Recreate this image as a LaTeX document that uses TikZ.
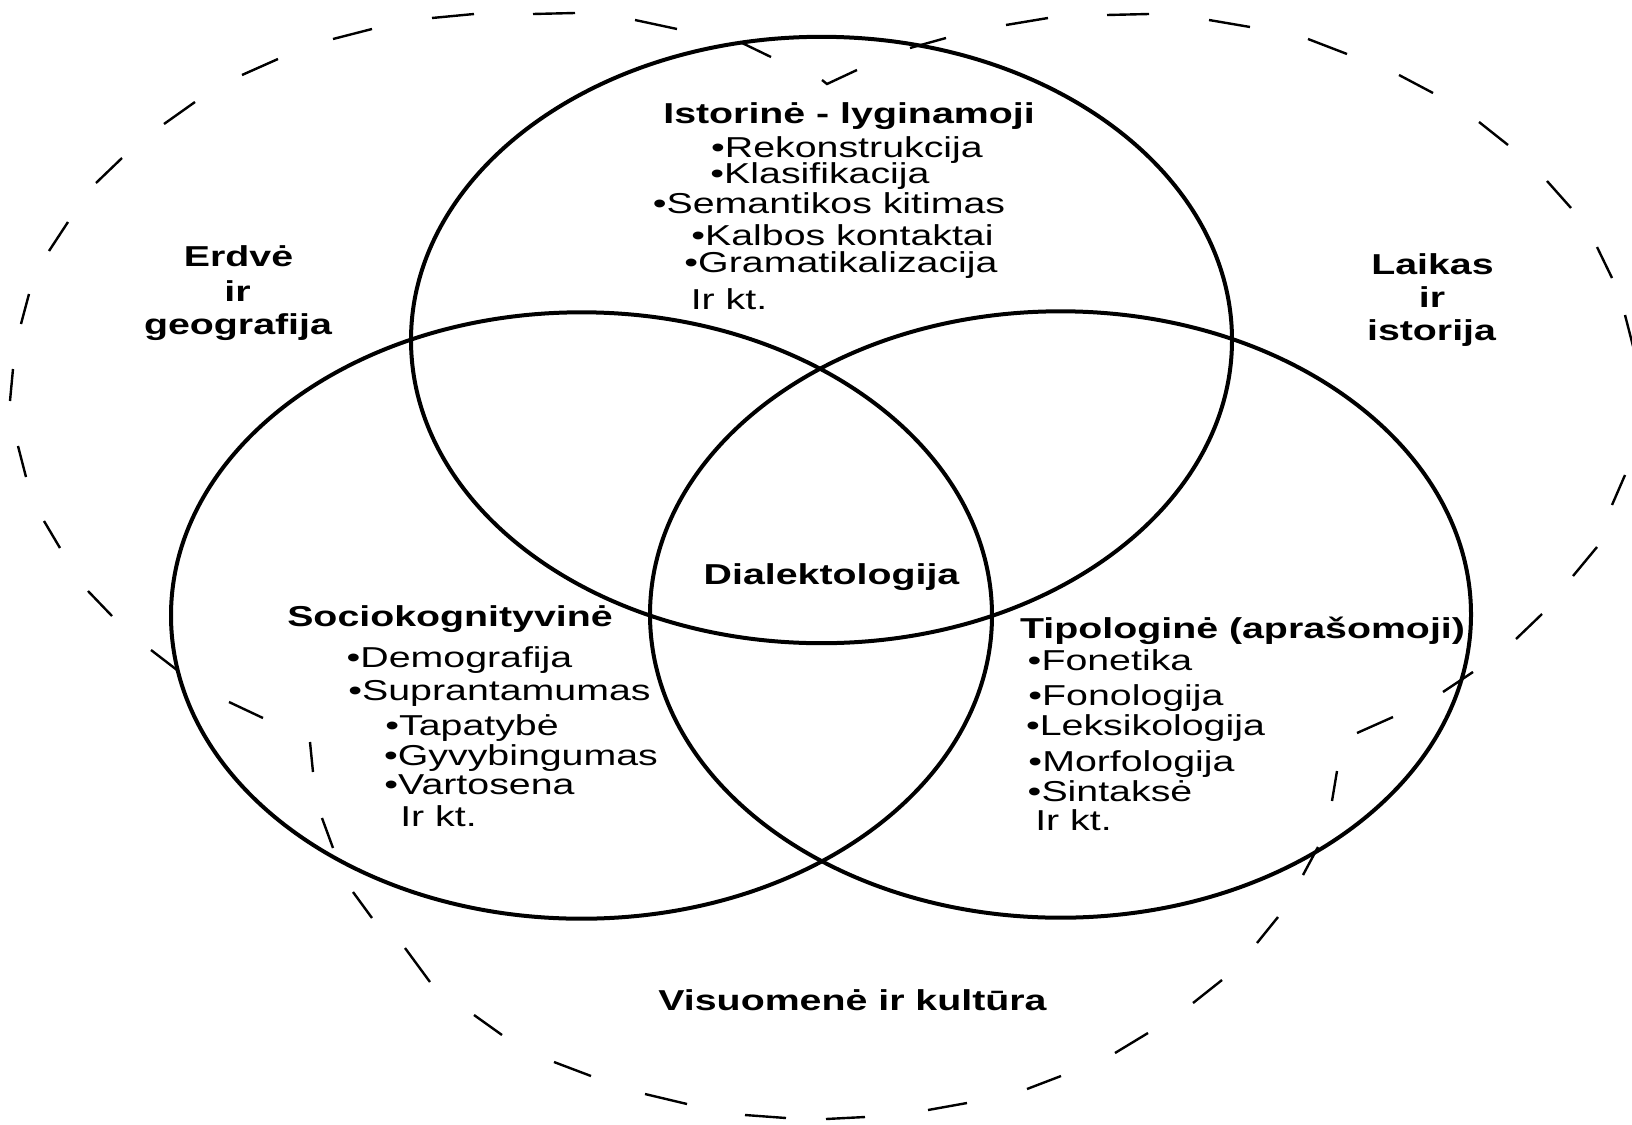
\documentclass[tikz,border=0pt]{standalone}
\usepackage{fontspec}
\setmainfont{Liberation Sans}
\usepackage{graphicx}
\newcommand{\hstr}[1]{\scalebox{1.365}[1]{#1}}
\begin{document}
\begin{tikzpicture}[x=0.5pt,y=-0.5pt,
  ring/.style={draw=black, line width=2pt},
  dashseg/.style={draw=black, line width=1.2pt},
  txt/.style={inner sep=0pt, anchor=base, font=\fontsize{14.4pt}{17pt}\selectfont},
  hd/.style={inner sep=0pt, anchor=base, font=\fontsize{14.4pt}{17pt}\selectfont\bfseries}]
\useasboundingbox (0,0) rectangle (1632,1124);

% dashed outline (union of three lobes), drawn dash by dash
\draw[dashseg] (822,80) -- (827,84) -- (857,70);
\foreach \xa/\ya/\xb/\yb in {
  740/42/771/57, 635/20/677/29, 533/14/575/13, 432/18/474/14,
  333/39/372/29, 242/75/278/59, 164/124/195/102, 96/183/122/158,
  49/251/68/222, 21/324/29/294, 10/401/13/369, 18/446/26/477,
  44/521/60/548, 88/591/112/616, 151/650/177/670, 229/702/263/718,
  310/742/313/772, 322/818/333/848, 353/892/372/918, 405/948/430/982,
  474/1015/502/1035, 554/1062/591/1076, 645/1094/687/1104, 745/1115/786/1118,
  826/1119/865/1117, 928/1110/967/1103, 1027/1089/1061/1076, 1115/1053/1148/1033,
  1193/1003/1222/980, 1257/943/1278/917, 1303/875/1318/847, 1332/801/1337/771,
  1357/733/1393/717, 1443/692/1473/672, 1516/639/1542/614, 1573/576/1597/547,
  1612/505/1625/475, 1625/315/1634/350, 1597/247/1612/278, 1547/181/1571/208,
  1479/122/1508/145, 1399/75/1433/93, 1308/39/1347/54, 1209/20/1250/27,
  1107/15/1149/14, 1006/25/1048/18, 910/48/946/38}
  \draw[dashseg] (\xa,\ya) -- (\xb,\yb);

% three solid circles
\coordinate (ctop) at (821.5,340);
\coordinate (cleft) at (581.5,615.5);
\coordinate (cright) at (1060.5,614.5);
\draw[ring] (ctop) ellipse [x radius=205.25pt, y radius=151.6pt];
\draw[ring] (cleft) ellipse [x radius=205.25pt, y radius=151.6pt];
\draw[ring] (cright) ellipse [x radius=205.25pt, y radius=151.6pt];

% top circle text
\node[hd]  (t0) at (849,123.3) {\hstr{Istorinė - lyginamoji}};
\node[txt] (t1) at (847,157.3) {\hstr{•Rekonstrukcija}};
\node[txt] (t2) at (820,183.3) {\hstr{•Klasifikacija}};
\node[txt] (t3) at (829,213.3) {\hstr{•Semantikos kitimas}};
\node[txt] (t4) at (842.5,245.7) {\hstr{•Kalbos kontaktai}};
\node[txt] (t5) at (841,272.7) {\hstr{•Gramatikalizacija}};
\node[txt] (t6) at (729,309.3) {\hstr{Ir kt.}};

% outer labels
\node[hd] (e1) at (238.5,266.7) {\hstr{Erdvė}};
\node[hd] (e2) at (237.5,301) {\hstr{ir}};
\node[hd] (e3) at (238,334) {\hstr{geografija}};
\node[hd] (l1) at (1432.5,274.3) {\hstr{Laikas}};
\node[hd] (l2) at (1432,307.3) {\hstr{ir}};
\node[hd] (l3) at (1431.5,340) {\hstr{istorija}};
\node[hd] (v1) at (852.5,1010.7) {\hstr{Visuomenė ir kultūra}};

% centre
\node[hd] (d0) at (831.5,584) {\hstr{Dialektologija}};

% left circle text
\node[hd]  (s0) at (450,626.7) {\hstr{Sociokognityvinė}};
\node[txt] (s1) at (459.5,667.3) {\hstr{•Demografija}};
\node[txt] (s2) at (499.5,700) {\hstr{•Suprantamumas}};
\node[txt] (s3) at (472,735.7) {\hstr{•Tapatybė}};
\node[txt] (s4) at (521,765) {\hstr{•Gyvybingumas}};
\node[txt] (s5) at (479.5,794) {\hstr{•Vartosena}};
\node[txt] (s6) at (438.5,826.7) {\hstr{Ir kt.}};

% right circle text
\node[hd]  (p0) at (1242.5,638.3) {\hstr{Tipologinė (aprašomoji)}};
\node[txt] (p1) at (1110,670) {\hstr{•Fonetika}};
\node[txt] (p2) at (1126,705) {\hstr{•Fonologija}};
\node[txt] (p3) at (1145.5,735.7) {\hstr{•Leksikologija}};
\node[txt] (p4) at (1131.5,771.7) {\hstr{•Morfologija}};
\node[txt] (p5) at (1110,801.7) {\hstr{•Sintaksė}};
\node[txt] (p6) at (1073.5,830.7) {\hstr{Ir kt.}};
\end{tikzpicture}
\end{document}
